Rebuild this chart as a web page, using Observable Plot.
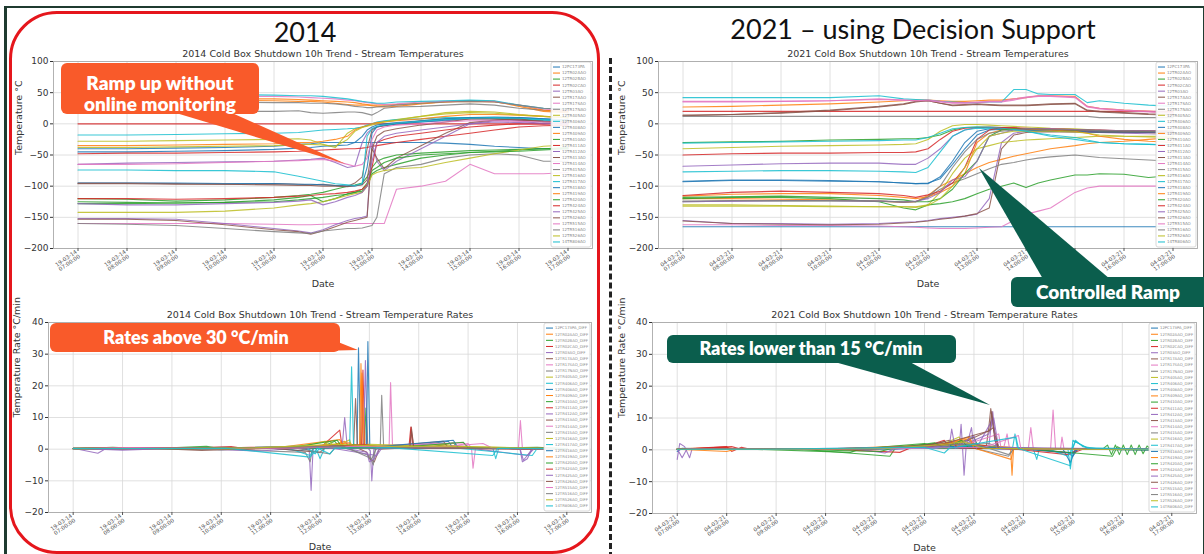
<!DOCTYPE html>
<html><head><meta charset="utf-8">
<script src="https://cdn.jsdelivr.net/npm/d3@7"></script>
<script src="https://cdn.jsdelivr.net/npm/@observablehq/plot@0.6"></script>
<style>
body{margin:0;background:#fff;}
#page{position:relative;width:1204px;height:554px;overflow:hidden;background:#fff;font-family:"DejaVu Sans",sans-serif;}
.abs{position:absolute;}
.head{position:absolute;font-family:Lato,"Open Sans",sans-serif;font-size:27px;color:#111;white-space:nowrap;transform:translateX(-50%);}
</style></head><body><div id="page"></div>
<script>
// ---------- DATA ----------
const sensorNames = ["12PC173PA","12TR02AAO","12TR02BAO","12TR02CAO","12TR03AO","12TR17AAO","12TR17SAO","12TR17NAO","12TR405AO","12TR406AO","12TR408AO","12TR409AO","12TR410AO","12TR411AO","12TR412AO","12TR413AO","12TR414AO","12TR415AO","12TR416AO","12TR417AO","12TR418AO","12TR419AO","12TR420AO","12TR424AO","12TR425AO","12TR426AO","12TR515AO","12TR516AO","12TR526AO","14TR806AO"];
const hourTicks = [7,8,9,10,11,12,13,14,15,16,17];
const date2014 = "19-03-14";
const date2021 = "04-03-21";
const tempTicks = [-200,-150,-100,-50,0,50,100];
const rateTicks = [-20,-10,0,10,20,30,40];

// 2014 temperatures, hours:
const times2014 = [7,8,9,10,11,11.5,11.75,12,12.25,12.5,12.65,12.8,12.9,13,13.1,13.25,13.5,14,14.5,15,15.5,16,16.5,17];
const temps2014 = [
[-40,-40,-39,-38,-36,-33,-32,-30,-30,-30,-30,-30,-30,-30,-30,-30,-30,-30,-31,-33,-36,-38,-40,-40],
[38,38,38,38,37,36,36,35,33,31,30,30,30,29,28,27,28,32,35,37,36,28,20,18],
[-120,-121,-124,-122,-118,-115,-113,-110,-105,-100,-98,-95,-85,-70,-60,-55,-50,-47,-45,-43,-42,-41,-40,-39],
[0,0,0,0,0,0,0,0,0,0,0,0,0,0,0,0,0,0,0,0,0,0,0,0],
[-65,-63,-62,-61,-60,-58,-57,-55,-62,-70,-68,-30,-15,-8,-5,-3,0,3,5,8,8,6,5,5],
[-95,-95,-96,-97,-96,-97,-98,-97,-99,-100,-95,-85,-40,-10,-5,-3,0,5,8,10,10,8,5,4],
[-160,-160,-160,-160,-161,-162,-162,-161,-160,-160,-160,-160,-160,-160,-160,-160,-105,-100,-92,-65,-80,-80,-80,-78],
[20,20,20,20,20,21,18,17,18,19,19,18,16,14,18,25,27,28,30,32,30,25,22,20],
[-28,-28,-27,-26,-25,-24,-26,-33,-38,-15,-8,-5,-3,0,2,4,7,12,18,20,19,15,12,10],
[-18,-18,-17,-16,-15,-14,-12,-10,-9,-8,-7,-5,-2,0,3,5,7,8,10,10,9,8,6,5],
[-45,-45,-44,-43,-41,-39,-38,-36,-35,-34,-30,-20,-10,-5,-2,0,2,5,8,10,11,10,8,6],
[40,40,40,40,40,39,38,37,36,35,34,32,31,30,30,30,31,33,35,36,35,30,22,20],
[-125,-126,-127,-126,-122,-118,-115,-125,-120,-112,-110,-108,-100,-80,-75,-70,-65,-55,-50,-46,-44,-42,-40,-38],
[-48,-47,-47,-46,-45,-44,-43,-42,-41,-40,-40,-39,-38,-36,-35,-33,-30,-25,-20,-15,-10,-5,-3,-2],
[-152,-152,-153,-160,-168,-172,-175,-170,-162,-155,-152,-150,-148,-30,-60,-75,-60,-40,-20,0,5,5,0,2],
[-153,-153,-155,-162,-170,-173,-177,-172,-165,-158,-155,-152,-150,-40,-55,-72,-55,-35,-15,2,6,8,3,2],
[45,45,45,44,44,43,42,41,40,38,37,35,34,33,32,31,32,35,36,37,36,30,24,22],
[-160,-161,-163,-168,-173,-175,-176,-172,-170,-168,-168,-167,-165,-163,-150,-80,-70,-65,-55,-50,-48,-50,-60,-60],
[-142,-142,-142,-140,-135,-130,-128,-125,-120,-115,-112,-110,-100,-82,-78,-75,-72,-70,-62,-55,-48,-42,-36,-34],
[47,47,47,47,46,45,45,44,42,40,38,36,35,34,33,33,35,36,37,38,37,30,25,24],
[-95,-95,-95,-96,-96,-97,-97,-98,-99,-100,-100,-97,-70,-15,-5,-2,0,3,6,9,10,10,8,6],
[-35,-35,-34,-33,-32,-30,-30,-28,-25,-20,-10,-5,-3,0,2,3,5,8,12,15,15,14,12,10],
[-128,-128,-127,-126,-125,-122,-120,-118,-115,-113,-110,-105,-95,-75,-70,-62,-55,-50,-48,-46,-45,-44,-42,-40],
[-120,-120,-121,-120,-118,-116,-115,-113,-112,-110,-108,-105,-98,-70,-30,-25,-20,-15,-10,-5,-2,0,0,1],
[-128,-130,-130,-128,-126,-124,-122,-130,-125,-118,-115,-110,-100,-60,-30,-20,-15,-10,-5,0,3,2,1,0],
[-96,-96,-97,-97,-98,-99,-99,-100,-100,-101,-99,-98,-90,-40,-20,-12,-8,-2,3,8,8,6,4,3],
[-65,-65,-64,-62,-60,-59,-58,-57,-60,-65,-68,-65,-55,-25,-10,-5,-2,0,3,5,5,4,3,2],
[35,35,35,35,34,34,33,33,32,30,28,27,26,26,27,28,30,33,35,36,35,30,25,23],
[-38,-38,-37,-36,-35,-33,-33,-34,-36,-25,-12,-6,-4,-2,0,3,6,12,16,18,17,14,12,10],
[-74,-74,-75,-75,-77,-84,-88,-92,-96,-98,-99,-96,-20,-8,-4,-2,1,4,7,9,10,9,7,5]
];

// 2021 temperatures
const times2021 = [7,8,9,10,11,11.5,11.75,12,12.25,12.5,12.75,13,13.25,13.5,13.75,14,14.25,14.5,15,15.25,15.5,16,16.5,17];
const temps2021 = [
[-165,-165,-165,-165,-165,-165,-165,-165,-165,-165,-165,-165,-165,-165,-165,-165,-165,-165,-165,-165,-165,-165,-165,-165],
[27,28,30,32,35,37,38,38,37,36,36,37,38,38,40,42,45,45,44,28,25,22,20,18],
[-30,-29,-28,-26,-25,-24,-24,-22,-18,-10,-6,-5,-5,-6,-7,-8,-9,-10,-11,-11,-12,-12,-12,-12],
[20,20,20,20,20,20,20,20,20,20,20,20,20,20,20,20,20,20,20,20,20,20,20,20],
[-68,-66,-64,-63,-63,-65,-65,-55,-40,-20,-10,-6,-5,-6,-7,-8,-9,-10,-12,-13,-14,-15,-16,-17],
[13,15,18,22,28,32,36,37,33,30,31,32,31,30,30,30,31,32,33,22,20,18,16,15],
[-162,-162,-163,-163,-164,-165,-166,-167,-168,-168,-168,-167,-166,-165,-155,-145,-140,-135,-110,-103,-100,-100,-100,-100],
[12,12,12,12,12,12,12,12,12,12,12,12,12,12,12,12,12,12,12,12,10,10,10,10],
[-40,-38,-36,-35,-34,-33,-32,-25,-12,-3,-1,-1,-2,-3,-4,-5,-6,-7,-8,-9,-10,-12,-14,-15],
[42,42,42,42,45,40,39,38,36,35,34,34,35,35,55,55,48,47,47,34,37,33,30,28],
[-92,-90,-90,-91,-93,-95,-96,-96,-85,-60,-30,-12,-8,-8,-9,-10,-11,-12,-12,-12,-13,-13,-13,-13],
[-120,-120,-121,-122,-124,-126,-125,-115,-100,-90,-80,-70,-62,-57,-52,-48,-44,-40,-35,-32,-30,-28,-25,-22],
[-120,-118,-118,-120,-125,-135,-138,-130,-128,-125,-120,-112,-105,-100,-95,-102,-95,-90,-82,-82,-80,-81,-86,-83],
[-50,-48,-47,-47,-46,-46,-45,-40,-25,-12,-7,-6,-6,-7,-8,-9,-10,-10,-11,-12,-12,-13,-13,-14],
[-155,-160,-160,-161,-160,-158,-157,-155,-152,-150,-148,-145,-120,-30,-15,-12,-12,-12,-13,-13,-13,-14,-14,-14],
[-156,-160,-161,-162,-161,-159,-158,-156,-153,-151,-148,-144,-135,-40,-18,-14,-13,-13,-13,-13,-14,-14,-14,-15],
[35,35,36,37,40,38,37,38,36,34,34,35,36,36,40,43,45,45,43,28,25,22,20,18],
[-125,-124,-124,-124,-124,-126,-125,-118,-105,-95,-88,-80,-72,-65,-62,-58,-55,-53,-50,-52,-54,-56,-58,-60],
[-130,-130,-131,-132,-133,-133,-133,-130,-110,-80,-55,-40,-35,-30,-28,-26,-25,-24,-22,-21,-20,-20,-20,-20],
[-77,-76,-75,-75,-76,-77,-78,-70,-45,-20,-10,-7,-8,-9,-10,-12,-15,-18,-22,-26,-30,-32,-33,-34],
[-93,-91,-91,-92,-93,-95,-96,-95,-88,-65,-40,-18,-10,-9,-9,-10,-11,-12,-12,-13,-13,-13,-13,-13],
[-116,-113,-112,-112,-115,-118,-120,-117,-110,-100,-80,-30,-15,-10,-8,-8,-9,-10,-12,-15,-20,-25,-28,-30],
[-118,-117,-116,-118,-120,-122,-125,-125,-120,-105,-80,-60,-20,-10,-8,-8,-8,-9,-10,-10,-11,-11,-12,-12],
[-115,-110,-108,-110,-112,-115,-118,-114,-108,-95,-70,-25,-10,-6,-6,-7,-8,-8,-9,-10,-10,-11,-11,-12],
[-125,-124,-123,-123,-124,-125,-124,-120,-110,-90,-85,-60,-20,-15,-10,-8,-8,-8,-9,-10,-10,-11,-11,-12],
[14,15,17,21,27,31,35,37,33,29,30,31,30,29,29,29,30,31,32,21,19,17,15,14],
[36,36,36,37,39,38,37,37,35,33,33,34,35,35,38,42,44,44,42,27,24,21,19,17],
[-124,-123,-123,-123,-124,-125,-125,-117,-100,-70,-45,-25,-15,-12,-10,-8,-8,-9,-10,-10,-11,-11,-12,-12],
[-132,-132,-132,-133,-133,-133,-134,-131,-120,-100,-70,-40,-20,-15,-12,-12,-12,-12,-13,-15,-18,-20,-21,-22],
[-31,-30,-29,-28,-27,-26,-26,-22,-15,-8,-6,-5,-6,-7,-9,-12,-16,-20,-25,-28,-30,-32,-33,-34]
];

// 2014 rates: [hour, °C/min]
const rates2014 = [
[[7,0.2],[8,0.1],[9,0.3],[10,-0.2],[11,0.4],[11.6,-0.5],[12,0.8],[12.5,0.5],[12.75,0.3],[12.78,32],[12.82,0.5],[13.2,0.6],[14,0.3],[15,0.2],[16,0.1],[17,0]],
[[7,0.3],[8.5,0.2],[10,0.5],[11,0.2],[12,0.6],[12.3,1.5],[12.5,2.5],[12.6,0.5],[12.8,0.6],[12.83,27],[12.87,0.4],[13.5,0.8],[14.5,0.6],[15.5,0.4],[16.5,0.3],[17,0.1]],
[[7,0.1],[8,0.2],[9.5,0.1],[11,0.3],[12,0.5],[12.3,2.5],[12.4,0.5],[12.9,0.8],[12.93,13],[12.97,0.5],[13.5,1.2],[14.3,0.8],[14.7,2],[14.8,0.5],[16,0.3],[17,0.1]],
[[7,0.2],[9,0.1],[10.2,0.8],[10.5,0.1],[12,0.4],[12.4,6],[12.45,0.5],[12.84,0.5],[12.87,25],[12.91,0.5],[13.4,0.6],[14.5,1],[15,0.3],[16,0.2],[17,0]],
[[7,0.3],[7.5,-1.3],[7.7,0.5],[9,0.2],[10,0.4],[11.5,0.2],[11.78,0.3],[11.82,-13],[11.86,0.3],[12.45,1],[12.5,10],[12.55,1],[12.88,0.5],[12.92,28],[12.96,0.5],[13.02,-0.5],[13.05,-10],[13.09,0],[13.5,0.5],[14,0.3],[16.05,0.2],[16.1,-4],[16.2,-3],[16.3,0.2],[17,0]],
[[7,0.2],[8,0.1],[9,0.4],[11,0.2],[12.68,0.4],[12.72,16],[12.76,0.4],[12.95,-1],[13,-3],[13.1,-4],[13.2,0],[13.82,0.5],[13.85,7],[13.9,0.5],[15,0.3],[17,0.1]],
[[7,0.3],[9,0.2],[11,0.3],[12,0.5],[13.4,0.5],[13.43,21],[13.47,0.5],[14.5,0.6],[15,1.8],[15.07,0.3],[15.1,-6],[15.15,0.3],[16.02,0.3],[16.06,9],[16.1,0.3],[17,0]],
[[7,0.2],[8,0.3],[9.8,0.1],[11.7,-1],[11.8,-4],[11.85,0.3],[12.5,0.4],[13,-2],[13.08,-5],[13.12,0],[13.22,0.5],[13.25,17],[13.29,0.5],[14,0.3],[16,0.4],[17,0.1]],
[[7,0.3],[9,0.2],[10.5,0.3],[12,0.8],[12.2,2.5],[12.3,0.5],[12.6,3],[12.65,0.5],[13.5,1],[14.5,1.5],[15,0.5],[16,0.3],[17,0.1]],
[[7,0.3],[8,0.2],[9,0.1],[11.3,0.5],[11.8,-2],[11.9,1],[12,-3],[12.1,0.5],[12.6,0.5],[12.64,26],[12.68,0.5],[13.1,1],[15.5,0.4],[15.56,-3],[15.62,0.3],[17,0.1]],
[[7,0.2],[10,0.3],[12,0.4],[12.94,0.4],[12.97,34],[13.01,0.4],[13.5,0.3],[14.6,2.5],[14.7,0.3],[17,0.1]],
[[7,0.1],[9,0.3],[11,0.2],[12.4,3],[12.5,0.5],[12.82,0.5],[12.85,24],[12.9,0.5],[14,0.6],[17,0.2]],
[[7,0.1],[7.8,0.6],[8.5,0.1],[9.7,0.9],[10,0.1],[11.2,0.7],[12,0.3],[12.7,1.5],[13,0.2],[14,0.5],[15.2,0.3],[16.4,0.6],[17,0.1]],
[[7,0.2],[8.2,0.3],[9.4,0.1],[10.6,0.6],[11.9,0.9],[12.3,1.2],[12.5,0.2],[13.8,0.4],[13.84,7],[13.88,0.4],[15,0.2],[17,0.1]],
[[7,0.2],[8,0.1],[9,0.5],[10.8,-0.6],[11.5,0.3],[12.2,1.5],[12.5,0.3],[12.95,-1],[13,-4],[13.1,-3],[13.2,0.3],[13.6,1],[15,0.4],[16.2,-2],[16.3,0.2],[17,0.1]],
[[7,0.3],[8.3,0.5],[9.6,-0.4],[11,0.3],[12,-1],[12.1,0.4],[13.3,0.8],[14.5,2.5],[14.6,0.4],[17,0.1]],
[[7,0.2],[8,0.4],[9.2,0.2],[10.5,0.4],[12.1,1],[12.4,0.3],[13.3,1.2],[14.9,2],[15.05,0.4],[17,0.2]],
[[7,0.1],[8.9,0.2],[10,0.6],[11.5,0.3],[12.2,-1.5],[12.3,0.3],[13.6,0.5],[16,0.2],[17,0.1]],
[[7,0.2],[8.6,0.3],[10.2,0.1],[11.6,0.6],[12.1,2.5],[12.2,0.4],[13,1.5],[14.2,1],[15.8,0.5],[17,0.2]],
[[7,0.2],[8.7,0.1],[10.3,0.4],[11.7,1],[11.9,-1.5],[12,0.4],[13,0.6],[14.8,0.3],[16.3,-2],[16.4,0.2],[17,0.1]],
[[7,0.3],[9,0.2],[11,0.4],[12.3,1],[13.2,0.8],[14.7,2.8],[14.8,0.4],[17,0.2]],
[[7,0.2],[8.4,0.1],[10,0.3],[11.8,0.8],[12.6,2],[12.7,0.5],[13.5,0.6],[16,0.3],[17,0.1]],
[[7,0.1],[9.3,0.3],[11.4,0.5],[12.35,2.8],[12.45,0.4],[13.7,0.7],[14.9,2.2],[15,0.4],[17,0.2]],
[[7,0.2],[8.8,0.4],[10.4,0.2],[12,0.6],[12.9,1.5],[13.3,0.4],[15,0.2],[17,0.1]],
[[7,0.3],[8,-0.3],[9.1,0.3],[11,0.2],[12,0.9],[13.15,-2],[13.25,0.3],[16.05,0.3],[16.12,-3.5],[16.2,-2],[16.35,0.3],[17,0.1]],
[[7,0.2],[9,0.4],[11,0.3],[12.4,0.9],[13.82,0.4],[13.85,6],[13.9,0.4],[15,0.2],[17,0.1]],
[[7,0.1],[8.1,0.5],[9.8,0.2],[11.6,0.4],[12.8,0.9],[14.4,0.7],[15.3,1.8],[15.5,0.3],[17,0.1]],
[[7,0.2],[9.2,0.2],[11.3,0.6],[12.5,0.8],[13.05,-3],[13.15,0.5],[14.2,0.4],[17,0.1]],
[[7,0.3],[8.5,0.2],[10.7,0.4],[12.3,1.5],[13.6,0.8],[14.6,1],[16.6,0.2],[17,0.1]],
[[7,0.2],[8.2,0.2],[10.1,0.3],[11.8,-2.5],[11.95,0.4],[12.2,-1.5],[12.3,0.3],[13.4,0.5],[15.5,-2],[15.6,0.3],[17,0.1]]
];

// 2021 rates: [hour, °C/min]
const rates2021 = [
[[7,-0.5],[7.1,0.5],[8,0.2],[9,0.1],[10,0.3],[11,0.2],[12,0.5],[13,0.4],[14,0.3],[14.9,-1],[15,-2],[15.1,0.2],[16,0.1],[17,0]],
[[7,0.3],[8,0.8],[8.2,0.1],[10,0.2],[12,1.5],[12.5,1],[13,2],[13.5,0.5],[13.74,0.3],[13.77,-8],[13.8,0.3],[15,0.2],[17,0]],
[[7,0.2],[8,0.3],[9.5,0.2],[11.3,-2],[11.4,0.3],[12,1.5],[12.5,1],[13,4],[13.1,0.5],[14,0.5],[15.6,0.2],[15.7,1.5],[15.78,-1.5],[15.86,1.5],[15.94,-1.5],[16.02,1.5],[16.1,-1.5],[16.18,1.5],[16.26,-1.5],[16.34,1.5],[16.42,-1.2],[16.5,1.2],[16.6,0],[17,0.2]],
[[7,0.2],[8,1],[8.1,-0.5],[8.3,0.8],[8.5,0.1],[10,0.3],[12,1],[12.4,3],[12.5,0.5],[13,1.5],[14,0.5],[15,-1],[15.2,0.2],[17,0.1]],
[[7,-3],[7.05,2],[7.15,1],[7.25,-2.5],[7.3,0.3],[8,0.1],[10,0.4],[11,0.2],[12,0.5],[12.5,1],[12.7,0.5],[12.74,8],[12.77,0.5],[12.8,-8],[12.84,0.5],[12.95,7],[13,0.5],[13.3,1],[13.38,12],[13.45,0.5],[14,0.3],[17,0.1]],
[[7,0.3],[8,0.2],[10,0.3],[12,1],[12.5,3],[12.7,1],[13.25,1],[13.3,7],[13.34,13],[13.4,6],[13.5,0.5],[14,0.2],[17,0.1]],
[[7,0.3],[9,0.2],[11,0.4],[13,1],[13.6,0.5],[13.67,5],[13.72,0.3],[14.1,0.4],[14.15,7],[14.2,0.3],[14.55,0.4],[14.6,12.5],[14.65,0.3],[14.75,0.3],[14.78,4],[14.82,0.3],[17,0.1]],
[[7,0.2],[9,0.3],[11,0.2],[12,0.8],[12.9,3],[13,0.5],[13.7,-2],[13.8,0.2],[17,0.1]],
[[7,0.3],[9,0.1],[11,0.3],[12,1],[12.4,2],[12.7,4],[12.8,1],[14,0.5],[16,0.3],[17,0.1]],
[[7,0.2],[8,0.1],[10,0.4],[11,0.3],[12,0.5],[13,1],[13.78,0.5],[13.83,5],[13.88,0.5],[14.2,0.3],[14.27,-3],[14.32,0.3],[14.9,0.3],[14.95,-6],[15,0.3],[15.05,3],[15.2,1],[15.5,0.3],[17,0.1]],
[[7,0.2],[9,0.2],[12,0.6],[12.6,2],[13,1],[13.5,0.3],[14.8,0.2],[14.95,-4],[15.05,0.2],[17,0]],
[[7,0.2],[8,-0.5],[8.2,0.3],[9.5,0.1],[11,0.4],[12.1,1.2],[12.6,2.5],[12.9,3.5],[13.1,0.5],[14,0.3],[17,0.1]],
[[7,0.3],[8.5,0.2],[10.5,-0.8],[10.7,0.3],[12,2],[12.3,0.4],[13,0.8],[15,0.2],[17,0]],
[[7,0.1],[8.1,1],[8.3,0.2],[10,0.3],[11.5,-0.8],[11.7,0.5],[12.6,1.8],[13.2,1.2],[14.9,-1.5],[15.1,0.2],[17,0.1]],
[[7,0.2],[9,0.3],[10.5,0.5],[11.2,-1],[11.4,0.3],[12.5,1],[12.85,2],[13.3,5],[13.4,10],[13.5,0.5],[17,0.1]],
[[7,0.3],[9.3,0.2],[11.6,0.5],[12.4,2.5],[12.6,1],[13.3,6],[13.4,7],[13.5,0.4],[17,0.1]],
[[7,0.1],[9.6,0.3],[11.7,0.4],[12.8,1.5],[13.5,5],[13.55,0.3],[15.2,0.2],[17,0.1]],
[[7,0.2],[8.9,0.2],[10.8,0.4],[12.2,1.2],[13.3,2],[13.6,0.4],[17,0.1]],
[[7,0.3],[9.1,0.1],[11.3,0.5],[12.5,1.5],[13,1.2],[14.3,0.4],[17,0.1]],
[[7,0.2],[8.4,0.3],[10.2,0.2],[11.9,0.6],[12.7,1],[14.5,0.3],[14.9,-2],[15.05,2.5],[15.3,0.6],[17,0.1]],
[[7,0.2],[9.8,0.1],[11.5,0.5],[12.9,1.2],[13.9,0.4],[15,-1],[15.1,0.2],[17,0]],
[[7,0.1],[8.7,0.2],[10.4,0.3],[12.3,1.4],[12.9,4],[13,0.6],[13.75,-3],[13.8,0.3],[17,0.1]],
[[7,0.2],[9.4,0.1],[11.1,-0.5],[11.3,0.3],[12.2,2.2],[12.4,0.5],[12.75,3],[12.9,0.5],[14,0.4],[15.8,-2],[15.9,1],[16,0.2],[17,0.1]],
[[7,0.2],[8,0.6],[8.15,0.1],[10.1,0.3],[12.1,0.9],[12.55,2.2],[12.7,0.6],[14.2,0.3],[17,0.1]],
[[7,0.3],[7.1,-2.5],[7.2,0.4],[9.2,0.2],[11,0.5],[12.5,1],[12.55,6.5],[12.62,0.5],[13,4.5],[13.05,0.5],[13.32,8],[13.38,10],[13.45,0.8],[17,0.1]],
[[7,0.2],[9,0.3],[11,0.3],[12.4,2],[13.32,6],[13.36,12],[13.42,3],[13.5,0.4],[17,0.1]],
[[7,0.2],[9.5,0.2],[11.5,0.4],[13.2,0.8],[13.9,4.5],[13.95,0.3],[15,0.2],[17,0.1]],
[[7,0.1],[8.6,0.2],[10.6,0.5],[12.1,1.3],[13,2],[13.7,-1.5],[13.8,0.3],[17,0.1]],
[[7,0.2],[9,0.2],[11.2,0.4],[12.3,1.6],[12.8,2.5],[13.2,0.5],[15,0.2],[17,0.1]],
[[7,0.2],[8.8,0.2],[10.9,0.6],[12,0.8],[12.4,-1],[12.5,0.5],[13.85,4],[13.9,0.4],[14.95,-5],[15,3],[15.3,0.5],[17,0.1]]
];

// ---------- STYLE ----------
const tab10 = ["#1f77b4","#ff7f0e","#2ca02c","#d62728","#9467bd","#8c564b","#e377c2","#7f7f7f","#bcbd22","#17becf"];
const seriesColors = sensorNames.map((_, i) => tab10[i % 10]);
const minus = d => d < 0 ? "\u2212" + Math.abs(d) : String(d);
const pad2 = h => String(h).padStart(2, "0");

function legendMark(names, w, fs) {
  return (index, scales, values, dims) => {
    const {width, height, marginTop, marginRight, marginBottom} = dims;
    const x1 = width - marginRight - 1, x0 = x1 - w;
    const y0 = marginTop + 1, y1 = height - marginBottom - 1;
    const g = d3.create("svg:g").attr("text-anchor", "start");
    g.append("rect").attr("x", x0).attr("y", y0).attr("width", w).attr("height", y1 - y0)
      .attr("rx", 2).attr("fill", "#fff").attr("fill-opacity", 0.9).attr("stroke", "#cfcfcf").attr("stroke-width", 0.8);
    const step = (y1 - y0 - 4) / names.length;
    names.forEach((n, i) => {
      const y = y0 + 2 + step * (i + 0.5);
      g.append("line").attr("x1", x0 + 2).attr("x2", x0 + 9).attr("y1", y).attr("y2", y)
        .attr("stroke", seriesColors[i]).attr("stroke-width", 1);
      g.append("text").attr("x", x0 + 11).attr("y", y).attr("dy", "0.35em").attr("text-anchor", "start")
        .attr("font-size", fs).attr("fill", "#8a8a8a").text(n);
    });
    return g.node();
  };
}

function chart(o) {
  const rows = [];
  o.names.forEach((name, i) => {
    if (o.times) o.values[i].forEach((v, j) => rows.push({name, t: o.times[j], v}));
    else o.values[i].forEach(([t, v]) => rows.push({name, t, v}));
  });
  const svg = Plot.plot({
    width: o.width, height: o.height,
    marginLeft: o.mL, marginRight: o.mR, marginTop: o.mT, marginBottom: o.mB,
    style: {fontFamily: "DejaVu Sans", background: "none", color: "#333", overflow: "visible"},
    x: {domain: [6.5, 17.5], label: null},
    y: {domain: o.yDomain, label: null},
    color: {domain: o.names, range: seriesColors},
    marks: [
      Plot.gridX(hourTicks, {stroke: "#d8d8d8", strokeOpacity: 1, strokeWidth: 0.8}),
      Plot.gridY(o.yTicks, {stroke: "#d8d8d8", strokeOpacity: 1, strokeWidth: 0.8}),
      Plot.line(rows, {x: "t", y: "v", z: "name", stroke: "name", strokeWidth: 1.1, strokeOpacity: 0.85}),
      legendMark(o.names, o.legendW, o.legendFs),
      Plot.frame({stroke: "#aaaaaa", strokeWidth: 0.9}),
      Plot.axisX(hourTicks, {tickFormat: h => `${o.date}\n${pad2(h)}:00:00`, tickRotate: -35, fontSize: 5.5,
        tickSize: 3, tickPadding: 2, color: "#555", label: null}),
      Plot.axisY(o.yTicks, {tickFormat: minus, fontSize: 9, tickSize: 3, tickPadding: 2, color: "#333", label: null}),
      Plot.text([o.title], {frameAnchor: "top", dy: -8, lineAnchor: "middle", fontSize: 9.5, fill: "#333"}),
      Plot.text(["Date"], {frameAnchor: "bottom", dy: o.dateDy, lineAnchor: "middle", fontSize: 9.5, fill: "#333"}),
      Plot.text([o.yLabel], {frameAnchor: "left", dx: -o.yLabDx, rotate: -90, lineAnchor: "middle", fontSize: 9.5, fill: "#333"})
    ]
  });
  svg.style.position = "absolute";
  svg.style.left = o.left + "px";
  svg.style.top = o.top + "px";
  return svg;
}

const page = document.getElementById("page");

// frame and decorations
const frame = document.createElement("div");
frame.className = "abs";
Object.assign(frame.style, {left: "4px", top: "6px", width: "1196px", height: "560px", borderTop: "2px solid #1f3b30", borderLeft: "3px solid #1f3b30", borderRight: "2px solid #1f3b30"});
page.appendChild(frame);

const redBox = document.createElement("div");
redBox.className = "abs";
Object.assign(redBox.style, {left: "9px", top: "11px", width: "585px", height: "537px", border: "3px solid #e5161c", borderRadius: "48px"});
page.appendChild(redBox);

const dash = document.createElement("div");
dash.className = "abs";
Object.assign(dash.style, {left: "609px", top: "58px", width: "0px", height: "500px", borderLeft: "3px dashed #222"});
page.appendChild(dash);

const h1 = document.createElement("div"); h1.className = "head"; h1.textContent = "2014";
Object.assign(h1.style, {left: "305px", top: "15px"}); page.appendChild(h1);
const h2 = document.createElement("div"); h2.className = "head"; h2.textContent = "2021 \u2013 using Decision Support";
Object.assign(h2.style, {left: "913px", top: "12px"}); page.appendChild(h2);

page.appendChild(chart({names: sensorNames, times: times2014, values: temps2014, date: date2014,
  yDomain: [-200, 100], yTicks: tempTicks, yLabel: "Temperature \u00b0C",
  title: "2014 Cold Box Shutdown 10h Trend - Stream Temperatures",
  width: 600, height: 250, left: 0, top: 45, mL: 53, mR: 8, mT: 16, mB: 47, dateDy: 35, yLabDx: 35, legendW: 40, legendFs: 4}));
page.appendChild(chart({names: sensorNames, times: times2021, values: temps2021, date: date2021,
  yDomain: [-200, 100], yTicks: tempTicks, yLabel: "Temperature \u00b0C",
  title: "2021 Cold Box Shutdown 10h Trend - Stream Temperatures",
  width: 599, height: 250, left: 605, top: 45, mL: 53, mR: 7, mT: 16, mB: 47, dateDy: 35, yLabDx: 37, legendW: 40, legendFs: 4}));
const rateNames = sensorNames.map(n => n + "_DIFF");
page.appendChild(chart({names: rateNames, values: rates2014, date: date2014,
  yDomain: [-20, 40], yTicks: rateTicks, yLabel: "Temperature Rate \u00b0C/min",
  title: "2014 Cold Box Shutdown 10h Trend - Stream Temperature Rates",
  width: 600, height: 249, left: 0, top: 305, mL: 48, mR: 9, mT: 17, mB: 42, dateDy: 34, yLabDx: 32, legendW: 46, legendFs: 3.8}));
page.appendChild(chart({names: rateNames, values: rates2021, date: date2021,
  yDomain: [-20, 40], yTicks: rateTicks, yLabel: "Temperature Rate \u00b0C/min",
  title: "2021 Cold Box Shutdown 10h Trend - Stream Temperature Rates",
  width: 599, height: 249, left: 605, top: 305, mL: 47, mR: 8, mT: 17, mB: 41, dateDy: 34, yLabDx: 31, legendW: 46, legendFs: 3.8}));

// callout annotations
const orange = "#f95a2a", green = "#0b5e4d";
const callouts = [
  {fill: orange, box: [61, 63, 198, 51], lines: ["Ramp up without", "online monitoring"], cx: 160, ys: [83, 104], fs: 19, tail: [[176,113],[232,113],[346,164]]},
  {fill: orange, box: [50, 323, 290, 29], lines: ["Rates above 30 \u00b0C/min"], cx: 196, ys: [338], fs: 18, tail: [[318,351],[338,342],[358,350]]},
  {fill: green, box: [1011, 277, 220, 30], lines: ["Controlled Ramp"], cx: 1108, ys: [292], fs: 19, tail: [[1043,279],[1110,279],[979,168]]},
  {fill: green, box: [667, 335, 289, 28], lines: ["Rates lower than 15 \u00b0C/min"], cx: 811, ys: [349], fs: 18, tail: [[831,361],[908,361],[990,405]]}
];
const ov = d3.select(page).append("svg").attr("width", 1204).attr("height", 554)
  .style("position", "absolute").style("left", "0px").style("top", "0px");
callouts.forEach(c => {
  ov.append("polygon").attr("points", c.tail.map(p => p.join(",")).join(" ")).attr("fill", c.fill);
  ov.append("rect").attr("x", c.box[0]).attr("y", c.box[1]).attr("width", c.box[2]).attr("height", c.box[3])
    .attr("rx", 6).attr("fill", c.fill);
  c.lines.forEach((t, i) => ov.append("text").attr("x", c.cx).attr("y", c.ys[i]).attr("dy", "0.35em")
    .attr("text-anchor", "middle").attr("fill", "#fff").attr("font-family", "Lato, 'Open Sans', sans-serif")
    .attr("font-weight", 800).attr("font-size", c.fs).text(t));
});
</script></body></html>
